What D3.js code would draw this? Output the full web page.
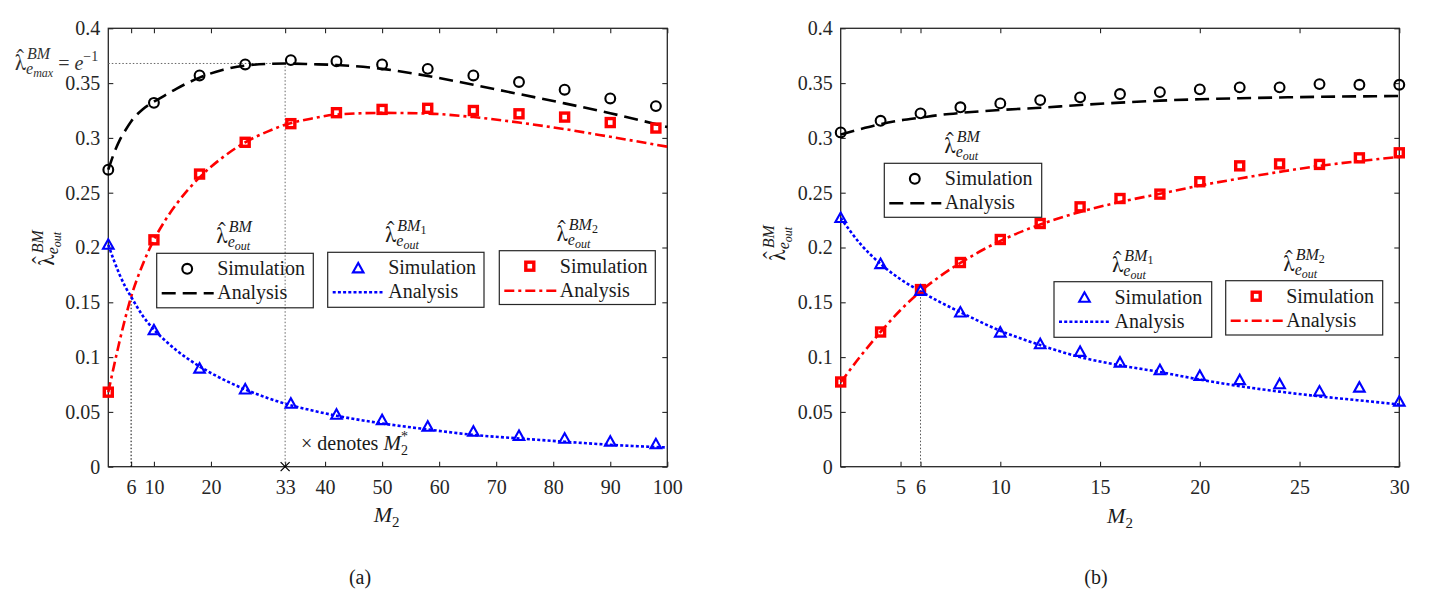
<!DOCTYPE html>
<html><head><meta charset="utf-8">
<script src="https://cdn.jsdelivr.net/npm/d3@7"></script>
<style>body{margin:0;background:#fff;}</style></head><body>
<svg id="c" width="1430" height="600" font-family='"Liberation Serif",serif'></svg>
<script>
// ---------------- data ----------------
const yTicks = [0,0.05,0.1,0.15,0.2,0.25,0.3,0.35,0.4];
const yTickLabels = ["0","0.05","0.1","0.15","0.2","0.25","0.3","0.35","0.4"];
const xTicksLeft = [6,10,20,33,40,50,60,70,80,90,100];
const xTicksRight = [5,6,10,15,20,25,30];

// panel (a): simulation points
const leftSimM   = [2,10,18,26,34,42,50,58,66,74,82,90,98];
const leftSimBM  = [0.271,0.332,0.357,0.367,0.371,0.370,0.367,0.363,0.357,0.351,0.344,0.336,0.329];
const leftSimBM1 = [0.203,0.125,0.090,0.071,0.058,0.048,0.043,0.037,0.0325,0.0286,0.0261,0.0234,0.021];
const leftSimBM2 = [0.068,0.207,0.267,0.296,0.313,0.323,0.326,0.327,0.325,0.322,0.319,0.314,0.309];
// panel (a): analysis curves
const leftAnaM   = [2,3,4,5,6,8,10,12,14,18,22,26,30,33,38,42,50,58,66,74,82,90,100];
const leftAnaBM  = [0.271,0.286,0.298,0.307,0.315,0.326,0.333,0.339,0.345,0.355,0.362,0.366,0.3675,0.3679,0.3672,0.3665,0.3630,0.3565,0.3485,0.3400,0.3315,0.3225,0.3100];
const leftAnaBM1 = [0.2025,0.188,0.175,0.164,0.155,0.138,0.125,0.115,0.106,0.0915,0.080,0.0705,0.0625,0.0575,0.051,0.0465,0.0395,0.034,0.029,0.0258,0.0228,0.0200,0.0175];
const leftAnaBM2 = [0.068,0.092,0.115,0.136,0.155,0.184,0.207,0.225,0.240,0.264,0.282,0.296,0.306,0.312,0.318,0.3213,0.3228,0.3222,0.319,0.314,0.308,0.301,0.292];

// panel (b): simulation points
const rightSimM   = [2,4,6,8,10,12,14,16,18,20,22,24,26,28,30];
const rightSimBM  = [0.305,0.3156,0.3224,0.3279,0.3315,0.3345,0.337,0.340,0.3418,0.3443,0.3461,0.3461,0.3491,0.3485,0.3485];
const rightSimBM1 = [0.2274,0.1854,0.161,0.1412,0.1229,0.1123,0.1053,0.0955,0.0886,0.0834,0.0795,0.0758,0.0691,0.0727,0.0599];
const rightSimBM2 = [0.0773,0.1229,0.1616,0.1863,0.2073,0.2219,0.2371,0.2447,0.2487,0.260,0.2745,0.2763,0.2758,0.2818,0.2864];
// panel (b): analysis curves
const rightAnaM   = [2,3,4,5,6,7,8,10,12,14,16,18,20,22,24,26,28,30];
const rightAnaBM  = [0.303,0.308,0.3125,0.316,0.3185,0.321,0.3228,0.3255,0.3275,0.330,0.3322,0.334,0.3353,0.3362,0.3369,0.3375,0.3379,0.3382];
const rightAnaBM1 = [0.227,0.203,0.185,0.171,0.160,0.150,0.141,0.124,0.111,0.100,0.0925,0.0864,0.0795,0.0735,0.0685,0.0642,0.0605,0.0568];
const rightAnaBM2 = [0.077,0.101,0.123,0.143,0.160,0.174,0.186,0.206,0.221,0.2325,0.2415,0.249,0.2565,0.263,0.269,0.2745,0.2788,0.2827];

const lambdaMax = 0.3679;   // e^-1
const optM2 = 33;
const crossLeft = [6, 0.155];
const crossRight = [6, 0.160];

// ---------------- drawing ----------------
const svg = d3.select("#c");
const AX = "#262626";
const FS = 20;
const FONT = '"Liberation Serif",serif';
const LAMFONT = '"FreeSerif","DejaVu Serif",serif';

const y = d3.scaleLinear().domain([0,0.4]).range([466.7,28.3]);
const xL = d3.scaleLinear().domain([2,100]).range([108.3,667.3]);
const xR = d3.scaleLinear().domain([2,30]).range([840.7,1399.3]);

const styles = {
  BM:  {color:"#000000", dash:"14,7", width:2.6},
  BM1: {color:"#0000ff", dash:"3,2.2", width:2.6},
  BM2: {color:"#ff0000", dash:"10,4,3,4", width:2.6}
};

function drawAxes(x, ticks) {
  const g = svg.append("g");
  const [x0,x1] = x.range(), [y0,y1] = y.range();
  const bottom = g.append("g").attr("transform",`translate(0,${y0})`)
    .call(d3.axisBottom(x).tickValues(ticks).tickSize(-5).tickPadding(13).tickFormat(d3.format("d")));
  const top = g.append("g").attr("transform",`translate(0,${y1})`)
    .call(d3.axisTop(x).tickValues(ticks).tickSize(-5).tickFormat(""));
  const left = g.append("g").attr("transform",`translate(${x0},0)`)
    .call(d3.axisLeft(y).tickValues(yTicks).tickSize(-5).tickPadding(8).tickFormat((d,i)=>yTickLabels[i]));
  const right = g.append("g").attr("transform",`translate(${x1},0)`)
    .call(d3.axisRight(y).tickValues(yTicks).tickSize(-5).tickFormat(""));
  [bottom,top,left,right].forEach(a=>{
    a.attr("font-family",FONT).attr("font-size",FS);
    a.select(".domain").remove();
    a.selectAll("line").attr("stroke",AX).attr("stroke-width",1.1);
    a.selectAll("text").attr("fill",AX);
  });
  g.append("rect").attr("x",x0).attr("y",y1).attr("width",x1-x0).attr("height",y0-y1)
    .attr("fill","none").attr("stroke",AX).attr("stroke-width",1.3);
}

function drawCurve(x, xs, ys, st) {
  const line = d3.line().x((d,i)=>x(xs[i])).y(d=>y(d)).curve(d3.curveMonotoneX);
  svg.append("path").attr("d",line(ys)).attr("fill","none")
    .attr("stroke",st.color).attr("stroke-width",st.width).attr("stroke-dasharray",st.dash);
}

function marker(g, type, cx, cy) {
  if (type==="circle") {
    g.append("circle").attr("cx",cx).attr("cy",cy).attr("r",4.9)
      .attr("fill","none").attr("stroke","#000").attr("stroke-width",2.1);
  } else if (type==="tri") {
    g.append("path").attr("d",`M${cx},${cy-4.9}L${cx-5.3},${cy+4.6}L${cx+5.3},${cy+4.6}Z`)
      .attr("fill","none").attr("stroke","#0000ff").attr("stroke-width",2.1);
  } else {
    g.append("rect").attr("x",cx-4).attr("y",cy-4).attr("width",8).attr("height",8)
      .attr("fill","none").attr("stroke","#ff0000").attr("stroke-width",3.4);
  }
}

function drawPoints(x, xs, ys, type) {
  const g = svg.append("g");
  ys.forEach((v,i)=>marker(g,type,x(xs[i]),y(v)));
}

// lambda-hat with super/subscripts, one text element
function mathLambda(parent, o) {
  const col = o.color || "#1a1a1a";
  const g = parent.append("g");
  const inner = g.append("g");
  const t = inner.append("text").attr("x",0).attr("y",0).attr("fill",col).attr("font-family",FONT);
  t.append("tspan").attr("font-family",LAMFONT).style("font-size","24px").text("λ\u0302");
  const s1 = t.append("tspan").attr("dx",1).attr("dy",-11).style("font-size","16px").style("font-style","italic").text(o.sup);
  let supW = s1.node().getComputedTextLength() + 1, lastDy = -11;
  if (o.supSub) {
    const s2 = t.append("tspan").attr("dy",3).style("font-size","12px").text(o.supSub);
    supW += s2.node().getComputedTextLength(); lastDy = -8;
  }
  t.append("tspan").attr("dx",-supW).attr("dy",4-lastDy).style("font-size","16px").style("font-style","italic").text("e");
  t.append("tspan").attr("dy",3).style("font-size","12px").style("font-style","italic").text(o.subSub);
  const bb = inner.node().getBBox();
  if (o.rotate) {
    inner.attr("transform",`translate(${-(bb.x+bb.width/2)},${-(bb.y+bb.height/2)})`);
    g.attr("transform",`translate(${o.x},${o.y}) rotate(-90)`);
  } else if (o.anchor==="start") {
    g.attr("transform",`translate(${o.x},${o.y})`);
  } else {
    inner.attr("transform",`translate(${-(bb.x+bb.width/2)},0)`);
    g.attr("transform",`translate(${o.x},${o.y})`);
  }
  return {g, text:t, width: bb.width};
}

function legend(box, type, st, supSub) {
  const [x0,y0,x1,y1] = box;
  const g = svg.append("g");
  g.append("rect").attr("x",x0).attr("y",y0).attr("width",x1-x0).attr("height",y1-y0)
    .attr("fill","none").attr("stroke",AX).attr("stroke-width",1.2);
  marker(g,type,x0+30.5,y0+15.5);
  g.append("text").attr("x",x0+60.5).attr("y",y0+22).attr("fill","#1a1a1a").style("font-size",FS+"px").text("Simulation");
  g.append("line").attr("x1",x0+5).attr("x2",x0+57).attr("y1",y0+40).attr("y2",y0+40)
    .attr("stroke",st.color).attr("stroke-width",st.width).attr("stroke-dasharray",st.dash);
  g.append("text").attr("x",x0+60.5).attr("y",y0+46).attr("fill","#1a1a1a").style("font-size",FS+"px").text("Analysis");
  mathLambda(svg,{x:(x0+x1)/2, y:y0-10, sup:"BM", supSub:supSub, subSub:"out"});
}

function xLabel(cx, baseline) {
  const t = svg.append("text").attr("x",cx).attr("y",baseline).attr("text-anchor","middle").attr("fill","#1a1a1a");
  t.append("tspan").style("font-size","22px").style("font-style","italic").text("M");
  t.append("tspan").attr("dy",5).style("font-size","15px").text("2");
}

// ---------- panel (a) ----------
drawAxes(xL, xTicksLeft);
svg.append("line").attr("x1",xL(crossLeft[0])).attr("x2",xL(crossLeft[0])).attr("y1",y(0)).attr("y2",y(crossLeft[1]))
  .attr("stroke","#000").attr("stroke-width",1).attr("stroke-dasharray","1.5,2");
svg.append("line").attr("x1",xL(optM2)).attr("x2",xL(optM2)).attr("y1",y(0)).attr("y2",y(lambdaMax))
  .attr("stroke","#666").attr("stroke-width",1).attr("stroke-dasharray","1.5,2");
svg.append("line").attr("x1",xL(2)).attr("x2",xL(optM2)).attr("y1",y(lambdaMax)).attr("y2",y(lambdaMax))
  .attr("stroke","#666").attr("stroke-width",1).attr("stroke-dasharray","1.5,2");
svg.append("path").attr("d",`M${xL(optM2)-4.5},${y(0)-4.5}L${xL(optM2)+4.5},${y(0)+4.5}M${xL(optM2)-4.5},${y(0)+4.5}L${xL(optM2)+4.5},${y(0)-4.5}`)
  .attr("stroke","#000").attr("stroke-width",1.2);

drawCurve(xL, leftAnaM, leftAnaBM, styles.BM);
drawCurve(xL, leftAnaM, leftAnaBM2, styles.BM2);
drawCurve(xL, leftAnaM, leftAnaBM1, styles.BM1);
drawPoints(xL, leftSimM, leftSimBM, "circle");
drawPoints(xL, leftSimM, leftSimBM2, "square");
drawPoints(xL, leftSimM, leftSimBM1, "tri");

legend([156.7,253.3,313.3,307.8],"circle",styles.BM,null);
legend([327.7,252.3,484,307.3],"tri",styles.BM1,"1");
legend([499.3,250.7,655.3,304.5],"square",styles.BM2,"2");

{
  const t = svg.append("text").attr("x",301).attr("y",450).attr("fill","#1a1a1a").style("font-size",FS+"px");
  t.append("tspan").text("× denotes ");
  t.append("tspan").style("font-style","italic").style("font-size","21px").text("M");
  t.append("tspan").attr("dy",5).style("font-size","14px").text("2");
  t.append("tspan").attr("dx",-7).attr("dy",-14).style("font-size","14px").text("*");
}
{
  const r = mathLambda(svg,{x:15, y:70, sup:"BM", subSub:"max", anchor:"start", color:"#333"});
  const t = r.text;
  t.append("tspan").attr("dx",5).attr("dy",-7).style("font-size",FS+"px").style("font-style","normal").text("= ");
  t.append("tspan").style("font-size",FS+"px").style("font-style","italic").text("e");
  t.append("tspan").attr("dy",-9).style("font-size","14px").style("font-style","normal").text("−1");
}
mathLambda(svg,{x:46, y:247, sup:"BM", subSub:"out", rotate:true});
xLabel(386.7, 522);
svg.append("text").attr("x",360).attr("y",584).attr("text-anchor","middle").attr("fill","#1a1a1a").style("font-size",FS+"px").text("(a)");

// ---------- panel (b) ----------
drawAxes(xR, xTicksRight);
svg.append("line").attr("x1",xR(crossRight[0])).attr("x2",xR(crossRight[0])).attr("y1",y(0)).attr("y2",y(crossRight[1]))
  .attr("stroke","#555").attr("stroke-width",1).attr("stroke-dasharray","1.5,2");
drawCurve(xR, rightAnaM, rightAnaBM, styles.BM);
drawCurve(xR, rightAnaM, rightAnaBM2, styles.BM2);
drawCurve(xR, rightAnaM, rightAnaBM1, styles.BM1);
drawPoints(xR, rightSimM, rightSimBM, "circle");
drawPoints(xR, rightSimM, rightSimBM2, "square");
drawPoints(xR, rightSimM, rightSimBM1, "tri");

legend([884.3,163.3,1041.7,217.3],"circle",styles.BM,null);
legend([1054,281.7,1211.7,337.3],"tri",styles.BM1,"1");
legend([1225.7,280.7,1382.7,335],"square",styles.BM2,"2");

mathLambda(svg,{x:777, y:242, sup:"BM", subSub:"out", rotate:true});
xLabel(1120, 523);
svg.append("text").attr("x",1096).attr("y",584).attr("text-anchor","middle").attr("fill","#1a1a1a").style("font-size",FS+"px").text("(b)");
</script>
</body></html>
